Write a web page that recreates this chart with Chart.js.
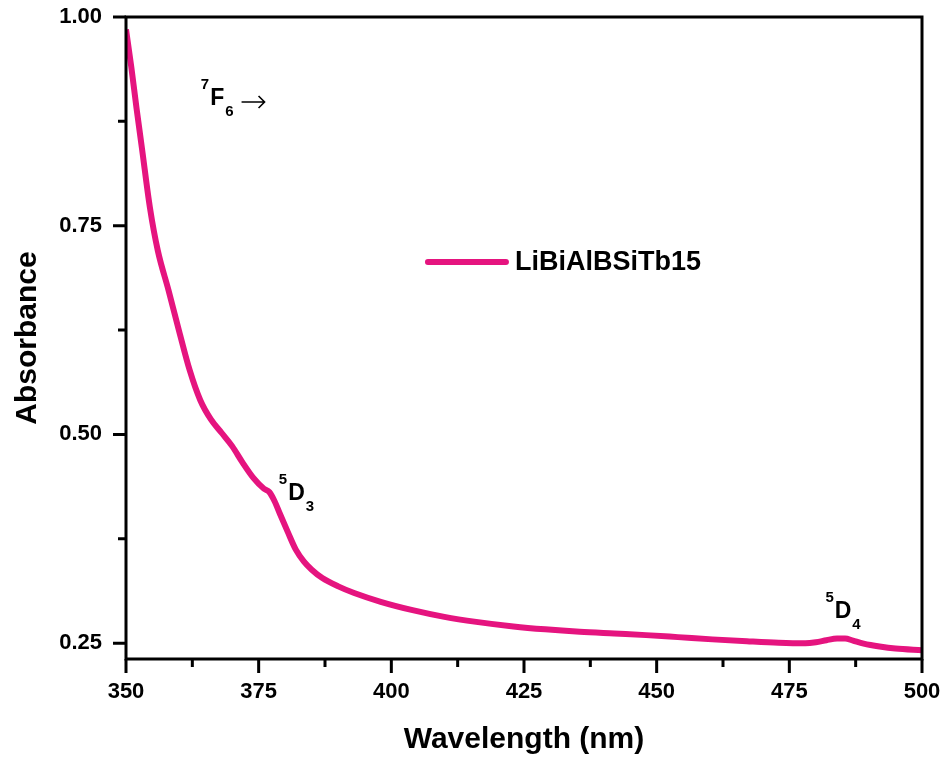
<!DOCTYPE html>
<html>
<head>
<meta charset="utf-8">
<script src="https://cdn.jsdelivr.net/npm/chart.js@4.4.0/dist/chart.umd.min.js"></script>
<style>
  html, body { margin: 0; padding: 0; background: #fff; }
  #wrap { width: 946px; height: 758px; }
</style>
</head>
<body>
<div id="wrap"><canvas id="chartAbs"></canvas></div>
<script>
// absorption spectrum, LiBiAlBSiTb15 glass
const wavelength = [350, 351, 352, 353, 354.5, 356, 358, 360, 362, 364, 366, 368, 370, 372, 374, 376, 377, 378, 379, 380.5, 382, 383.5, 385, 387, 390, 393, 398, 404, 410, 416, 423, 429, 435.5, 442, 448, 454, 460.5, 467, 473, 478, 480, 482, 484, 485.5, 487, 489, 492, 495, 500];
const absorbance = [0.985, 0.94, 0.89, 0.843, 0.772, 0.720, 0.673, 0.624, 0.577, 0.541, 0.518, 0.502, 0.486, 0.466, 0.448, 0.435, 0.431, 0.42, 0.405, 0.383, 0.362, 0.348, 0.338, 0.328, 0.318, 0.310, 0.2995, 0.2895, 0.2815, 0.2755, 0.2700, 0.2665, 0.2636, 0.2615, 0.2596, 0.2572, 0.2545, 0.2522, 0.2504, 0.2498, 0.251, 0.2535, 0.2555, 0.2556, 0.253, 0.2495, 0.246, 0.2435, 0.2415];
const seriesName = 'LiBiAlBSiTb15';

const xTicks = [350, 362.5, 375, 387.5, 400, 412.5, 425, 437.5, 450, 462.5, 475, 487.5, 500];
const yTicks = [0.25, 0.375, 0.5, 0.625, 0.75, 0.875, 1.0];

// transition labels: [wavelength, absorbance, sup, main, sub, arrow]
const terms = [
  [364.1, 0.8946, '7', 'F', '6', true],
  [378.8, 0.4214, '5', 'D', '3', false],
  [481.8, 0.2800, '5', 'D', '4', false]
];

const FONT = "'Liberation Sans', Arial, sans-serif";
const PINK = '#e5147f';

const isMajorX = v => Math.abs(v % 25) < 1e-6;
const isMajorY = v => Math.abs((v * 100) % 25) < 1e-6;

const decor = {
  id: 'decor',
  afterDraw(chart) {
    const {ctx, chartArea: a, scales: {x, y}} = chart;
    ctx.save();
    ctx.strokeStyle = '#000';
    ctx.lineWidth = 3;
    ctx.strokeRect(a.left, a.top, a.right - a.left, a.bottom - a.top);

    // outward tick marks, minor ones shorter
    ctx.beginPath();
    xTicks.forEach(v => {
      const px = x.getPixelForValue(v);
      ctx.moveTo(px, a.bottom);
      ctx.lineTo(px, a.bottom + (isMajorX(v) ? 14 : 8));
    });
    yTicks.forEach(v => {
      const py = y.getPixelForValue(v);
      ctx.moveTo(a.left, py);
      ctx.lineTo(a.left - (isMajorY(v) ? 13 : 8), py);
    });
    ctx.stroke();

    // legend
    const lx = x.getPixelForValue(406.9);
    const ly = y.getPixelForValue(0.7065);
    ctx.strokeStyle = PINK;
    ctx.lineWidth = 6;
    ctx.lineCap = 'round';
    ctx.beginPath();
    ctx.moveTo(lx, ly);
    ctx.lineTo(lx + 78, ly);
    ctx.stroke();
    ctx.fillStyle = '#000';
    ctx.font = 'bold 27px ' + FONT;
    ctx.textBaseline = 'middle';
    ctx.textAlign = 'left';
    ctx.fillText(chart.data.datasets[0].label, lx + 87, ly + 1);

    // spectroscopic terms
    ctx.textBaseline = 'alphabetic';
    ctx.strokeStyle = '#000';
    ctx.lineCap = 'butt';
    terms.forEach(([wx, ay, sup, main, sub, arrow]) => {
      let px = x.getPixelForValue(wx);
      const py = y.getPixelForValue(ay);
      ctx.font = 'bold 15px ' + FONT;
      ctx.fillText(sup, px, py - 16);
      px += ctx.measureText(sup).width + 1;
      ctx.font = 'bold 23px ' + FONT;
      ctx.fillText(main, px, py);
      px += ctx.measureText(main).width + 1;
      ctx.font = 'bold 15px ' + FONT;
      ctx.fillText(sub, px, py + 11);
      px += ctx.measureText(sub).width + 8;
      if (arrow) {
        const ay2 = py - 3;
        ctx.lineWidth = 1.6;
        ctx.beginPath();
        ctx.moveTo(px, ay2);
        ctx.lineTo(px + 23, ay2);
        ctx.moveTo(px + 17, ay2 - 6);
        ctx.lineTo(px + 23, ay2);
        ctx.lineTo(px + 17, ay2 + 6);
        ctx.stroke();
      }
    });
    ctx.restore();
  }
};

// transparent tick marks only push the labels away from the axis
const spacer = len => ({
  display: true,
  drawOnChartArea: false,
  drawTicks: true,
  tickLength: len,
  tickColor: 'rgba(0,0,0,0)',
  color: 'rgba(0,0,0,0)'
});

new Chart(document.getElementById('chartAbs').getContext('2d'), {
  type: 'line',
  data: {
    datasets: [{
      label: seriesName,
      data: wavelength.map((w, i) => ({x: w, y: absorbance[i]})),
      borderColor: PINK,
      borderWidth: 6,
      pointRadius: 0,
      cubicInterpolationMode: 'monotone',
      fill: false
    }]
  },
  options: {
    responsive: true,
    maintainAspectRatio: false,
    animation: false,
    layout: { padding: { top: 17, right: 24, left: 0, bottom: 0 } },
    plugins: { legend: { display: false }, tooltip: { enabled: false } },
    scales: {
      x: {
        type: 'linear',
        min: 350,
        max: 500,
        afterBuildTicks: s => { s.ticks = xTicks.map(v => ({value: v})); },
        afterFit: s => { s.height = 99; },
        grid: spacer(20),
        border: { display: false },
        ticks: {
          autoSkip: false,
          maxRotation: 0,
          padding: 0,
          color: '#000',
          font: { family: FONT, size: 22, weight: 'bold' },
          callback: v => isMajorX(v) ? String(v) : ''
        },
        title: {
          display: true,
          text: 'Wavelength (nm)',
          color: '#000',
          padding: { top: 0, bottom: 0 },
          font: { family: FONT, size: 30, weight: 'bold', lineHeight: 1.2 }
        }
      },
      y: {
        min: 0.231,
        max: 1.0,
        afterBuildTicks: s => { s.ticks = yTicks.map(v => ({value: v})); },
        afterFit: s => { s.width = 126; },
        grid: spacer(24),
        border: { display: false },
        ticks: {
          autoSkip: false,
          padding: 0,
          color: '#000',
          font: { family: FONT, size: 22, weight: 'bold' },
          callback: v => isMajorY(v) ? v.toFixed(2) : ''
        },
        title: {
          display: true,
          text: 'Absorbance',
          color: '#000',
          padding: { top: 10, bottom: 0 },
          font: { family: FONT, size: 30, weight: 'bold', lineHeight: 1.2 }
        }
      }
    }
  },
  plugins: [decor]
});
</script>
</body>
</html>
